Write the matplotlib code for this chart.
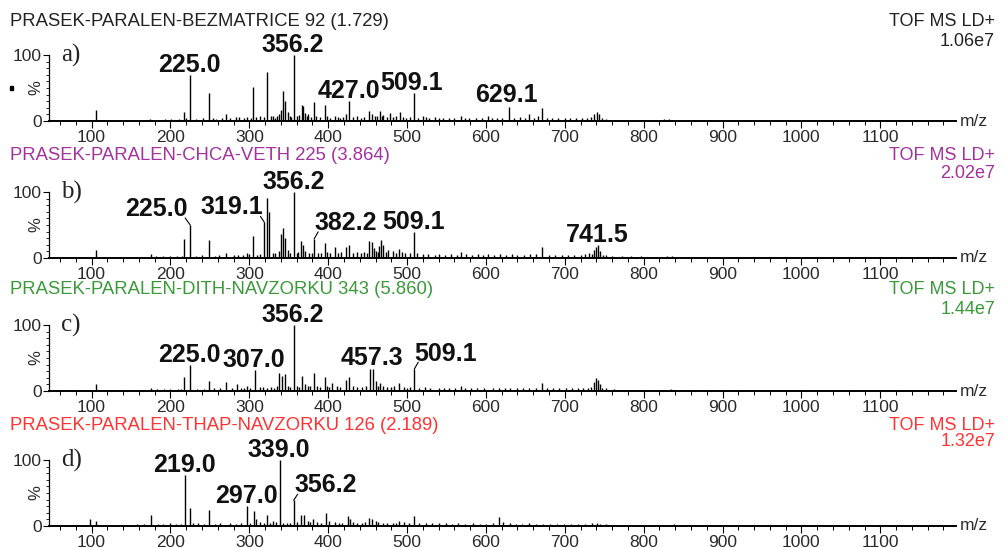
import matplotlib.pyplot as plt
from matplotlib.patches import Rectangle
from matplotlib.ticker import MultipleLocator

plt.rcParams["font.family"] = ["Liberation Sans", "DejaVu Sans"]

# ---- spectra headers ----
titles = [
    "PRASEK-PARALEN-BEZMATRICE 92 (1.729)",
    "PRASEK-PARALEN-CHCA-VETH 225 (3.864)",
    "PRASEK-PARALEN-DITH-NAVZORKU 343 (5.860)",
    "PRASEK-PARALEN-THAP-NAVZORKU 126 (2.189)",
]
modes = ["TOF MS LD+"] * 4
scales = ["1.06e7", "2.02e7", "1.44e7", "1.32e7"]
letters = ["a)", "b)", "c)", "d)"]

# ---- a) bez matrice: main peaks (m/z, rel. intensity %) ----
mz_a = [105.0, 217.4, 225.0, 249.5, 270.9, 283.7, 297.0, 305.0, 313.0, 322.5,
        327.0, 335.0, 340.0, 342.7, 345.5, 349.0, 356.2, 363.5, 366.3, 368.0,
        370.0, 381.5, 395.5, 408.0, 423.0, 427.0, 452.0, 456.0, 465.8, 470.0,
        478.7, 491.0, 509.1, 520.0, 535.0, 568.5, 602.0, 629.1, 654.0, 671.0,
        737.0, 741.0, 743.0]
int_a = [16, 13, 69, 42, 10, 6, 6, 51, 7, 75,
         8, 8, 17, 45, 31, 14, 100, 9, 25, 22,
         12, 29, 24, 8, 10, 31, 15, 10, 15, 9,
         12, 14, 42, 8, 6, 7, 7, 21, 10, 19,
         11, 14, 10]
# background sticks
mz_a_bg = [62, 71, 84, 92, 112, 121, 131, 143, 152, 163, 174, 181, 193, 201, 211,
           220, 232, 241, 254, 258, 265, 276, 287, 293, 302, 309, 318, 330, 333, 338,
           351, 353, 360, 373, 375, 378, 385, 389, 399, 402, 412, 415, 419, 431, 436,
           441, 446, 459, 462, 468, 474, 482, 486, 495, 499, 504, 514, 524, 528, 540,
           546, 553, 560, 573, 579, 588, 595, 608, 614, 620, 636, 643, 650, 661, 666,
           677, 684, 692, 700, 707, 714, 722, 728, 733, 747, 752, 762, 770, 781, 793,
           806, 818, 826, 832, 840, 851, 866, 885, 905, 931, 958, 985, 1012, 1044, 1077,
           1105, 1133, 1160, 1185]
int_a_bg = [1.5, 2, 1.5, 2, 2, 1.5, 2, 1.5, 2, 2, 2.5, 2, 3, 2.5, 3,
            4, 3, 4, 4, 3, 5, 5, 6, 4, 5, 6, 6, 7, 5, 10,
            8, 6, 7, 8, 10, 6, 7, 6, 8, 5, 6, 5, 6, 6, 7,
            5, 6, 8, 7, 7, 6, 6, 7, 6, 5, 6, 5, 6, 5, 5,
            4, 5, 4, 4, 5, 4, 5, 4, 5, 4, 5, 6, 4, 5, 7,
            4, 5, 4, 5, 4, 4, 5, 4, 6, 5, 3, 2, 2, 2, 2,
            2, 2, 2.5, 3, 2, 1.5, 1.5, 1.5, 1.5, 1.5, 1, 1.5, 1, 1.5, 1,
            1, 1.5, 1, 1]
lab_a = [225.0, 356.2, 427.0, 509.1, 629.1]

# ---- b) CHCA ----
mz_b = [105.0, 175.0, 217.4, 225.0, 249.5, 271.0, 297.0, 305.0, 319.1, 322.5,
        325.0, 340.0, 342.7, 345.5, 349.0, 356.2, 366.0, 368.5, 371.0, 382.2,
        395.5, 408.0, 423.0, 427.0, 452.0, 456.0, 458.0, 465.0, 467.5, 470.0,
        490.0, 509.1, 568.0, 602.0, 671.0, 737.0, 739.5, 741.5, 744.0]
int_b = [12, 6, 29, 50, 27, 8, 8, 33, 54, 91,
         69, 36, 45, 31, 12, 100, 26, 20, 10, 29,
         22, 16, 17, 20, 26, 25, 15, 18, 27, 20,
         14, 39, 9, 6, 17, 12, 16, 20, 11]
mz_b_bg = [58, 67, 80, 94, 113, 124, 136, 147, 158, 166, 182, 190, 199, 208, 214,
           232, 240, 256, 262, 280, 286, 292, 300, 310, 314, 330, 333, 337, 352, 360,
           362, 376, 379, 387, 391, 398, 402, 412, 416, 431, 436, 441, 446, 449, 461,
           463, 473, 476, 482, 486, 494, 498, 504, 513, 520, 527, 535, 541, 548, 556,
           563, 575, 582, 590, 596, 610, 618, 625, 633, 640, 648, 656, 664, 680, 688,
           696, 704, 712, 720, 726, 731, 734, 748, 752, 760, 772, 784, 796, 809, 821,
           830, 836, 845, 860, 878, 899, 924, 950, 978, 1005, 1036, 1068, 1099, 1128, 1157,
           1184]
int_b_bg = [1.5, 2, 1.5, 2, 2, 1.5, 2, 1.5, 2, 2, 2.5, 3, 2.5, 3, 3,
            3, 4, 3, 5, 4, 5, 5, 6, 5, 6, 8, 7, 10, 8, 7,
            9, 8, 7, 8, 7, 9, 7, 8, 9, 8, 9, 7, 9, 8, 10,
            9, 9, 12, 10, 8, 9, 8, 7, 7, 6, 6, 5, 6, 5, 6,
            5, 6, 5, 6, 5, 5, 6, 5, 6, 5, 5, 6, 6, 5, 5,
            5, 4, 5, 5, 6, 7, 6, 5, 4, 3, 3, 2.5, 2.5, 2, 2,
            2.5, 3, 2, 2, 1.5, 1.5, 1.5, 1.5, 1.5, 1, 1.5, 1, 1.5, 1, 1.5,
            1]
lab_b = [225.0, 319.1, 356.2, 382.2, 509.1, 741.5]

# ---- c) DITH ----
mz_c = [105.0, 175.0, 217.4, 225.0, 249.5, 271.0, 284.0, 297.0, 307.0, 313.0,
        338.0, 341.0, 345.5, 356.2, 367.4, 370.0, 381.5, 395.5, 405.0, 423.0,
        427.0, 453.4, 457.3, 460.0, 466.0, 490.0, 509.1, 568.0, 671.0, 737.0,
        739.5, 741.5, 744.0]
int_c = [11, 5, 21, 40, 15, 13, 11, 8, 32, 6,
         28, 23, 26, 100, 22, 10, 28, 21, 12, 16,
         21, 33, 33, 15, 12, 12, 33, 8, 12, 13,
         19, 16, 10]
mz_c_bg = [60, 70, 83, 93, 114, 126, 138, 149, 160, 168, 183, 192, 200, 209, 213,
           234, 242, 255, 263, 278, 289, 293, 301, 317, 322, 327, 331, 335, 349, 352,
           360, 363, 374, 377, 386, 390, 399, 401, 411, 415, 431, 437, 443, 448, 463,
           470, 474, 479, 484, 496, 500, 504, 515, 523, 529, 540, 547, 553, 561, 574,
           581, 589, 597, 609, 616, 624, 631, 639, 647, 655, 663, 677, 685, 693, 701,
           709, 717, 723, 729, 733, 747, 752, 762, 774, 787, 801, 815, 828, 835, 843,
           857, 876, 897, 921, 947, 975, 1003, 1034, 1065, 1096, 1126, 1155, 1183]
int_c_bg = [1.5, 2, 1.5, 2, 2, 1.5, 2, 1.5, 2, 2, 2.5, 2.5, 3, 2.5, 3,
            3, 3, 4, 4, 4, 5, 4, 5, 6, 5, 6, 5, 7, 8, 6,
            7, 6, 8, 7, 7, 6, 8, 6, 7, 6, 7, 6, 6, 7, 8,
            7, 6, 6, 7, 6, 5, 6, 5, 6, 5, 5, 5, 5, 4, 4,
            5, 4, 5, 4, 4, 5, 4, 5, 4, 4, 5, 4, 4, 4, 4,
            4, 4, 4, 5, 6, 5, 4, 3, 2, 2, 2, 2, 2, 2.5, 2,
            1.5, 1.5, 1.5, 1.5, 1.5, 1, 1.5, 1, 1.5, 1, 1, 1.5, 1]
lab_c = [225.0, 307.0, 356.2, 457.3, 509.1]

# ---- d) THAP ----
mz_d = [98.0, 105.0, 175.0, 199.0, 219.0, 225.0, 235.0, 249.5, 275.0, 297.0,
        305.5, 309.0, 322.5, 330.0, 339.0, 343.0, 356.2, 366.0, 369.0, 381.0,
        397.0, 408.0, 425.0, 428.0, 452.0, 456.0, 490.0, 509.0, 617.0, 622.0,
        741.0]
int_d = [11, 7, 16, 4, 77, 28, 4, 25, 4, 31,
         23, 10, 17, 8, 100, 5, 39, 17, 17, 10,
         20, 6, 15, 10, 12, 11, 8, 15, 14, 6,
         5]
mz_d_bg = [61, 72, 86, 114, 125, 137, 148, 157, 166, 184, 190, 207, 213, 228, 242,
           257, 263, 283, 289, 301, 314, 318, 326, 334, 348, 351, 360, 374, 377, 386,
           391, 401, 414, 418, 431, 436, 443, 447, 460, 463, 469, 474, 482, 486, 496,
           502, 515, 524, 531, 541, 549, 557, 565, 574, 583, 592, 600, 609, 630, 638,
           646, 655, 663, 672, 681, 690, 699, 708, 717, 726, 734, 745, 752, 763, 776,
           789, 802, 816, 829, 838, 848, 862, 879, 898, 920, 944, 970, 996, 1025, 1054,
           1083, 1112, 1141, 1168, 1188]
int_d_bg = [2, 1.5, 2, 2, 1.5, 2, 2, 3, 2.5, 3, 2.5, 3, 3, 4, 3,
            3, 4, 3, 4, 5, 6, 4, 5, 6, 5, 5, 6, 7, 6, 6,
            5, 7, 5, 5, 6, 5, 5, 6, 7, 6, 5, 5, 5, 5, 6,
            5, 5, 4, 4, 4, 4, 3, 4, 3, 4, 3, 3, 4, 4, 3,
            3, 4, 3, 3, 3, 3, 3, 3, 3, 3, 4, 3, 3, 2, 2,
            2, 2, 2, 2, 2.5, 2, 1.5, 1.5, 1.5, 1.5, 1.5, 1, 1.5, 1, 1.5,
            1, 1.5, 1, 1.5, 1]
lab_d = [219.0, 297.0, 339.0, 356.2]

spectra = [
    (mz_a, int_a, mz_a_bg, int_a_bg, lab_a),
    (mz_b, int_b, mz_b_bg, int_b_bg, lab_b),
    (mz_c, int_c, mz_c_bg, int_c_bg, lab_c),
    (mz_d, int_d, mz_d_bg, int_d_bg, lab_d),
]

# ---- styling ----
title_colors = ["#222222", "#a3329f", "#3a9a3a", "#ff3333"]
# label offsets in pixels: (dx, dy, leader end or None)
label_shift = [
    {509.1: (-3, 3, None), 629.1: (-2, 5, None)},
    {225.0: (-34, 9, (-5, 7)), 319.1: (-33, 8, (-4, 6)),
     382.2: (32, 9, (4, 7)), 356.2: (0, 3, None), 741.5: (0, 3, None)},
    {457.3: (-1, 4, None), 509.1: (31, 8, (4, 7))},
    {356.2: (32, 8, (4, 6))},
]
panel_bottom_px = [121, 258, 391, 526]
title_y_px = [21, 155, 290, 425]
scale_y_px = [41, 174, 309, 441]
W, H = 1006, 548
ax_left, ax_right = 49, 956
ax_h = 66

fig = plt.figure(figsize=(W / 100, H / 100), dpi=100)

for i, (mz, inten, mz_bg, int_bg, labels) in enumerate(spectra):
    ax = fig.add_axes([ax_left / W, (H - panel_bottom_px[i]) / H,
                       (ax_right - ax_left) / W, ax_h / H])
    ax.vlines(mz_bg, 0, int_bg, color="black", lw=1.0)
    ax.vlines(mz, 0, inten, color="black", lw=1.0)

    ax.set_xlim(46, 1196)
    ax.set_ylim(0, 100)
    for s in ["top", "right"]:
        ax.spines[s].set_visible(False)
    ax.spines["left"].set_bounds(0, 100)
    ax.spines["left"].set_linewidth(0.9)
    ax.spines["bottom"].set_linewidth(1.4)
    ax.xaxis.set_major_locator(MultipleLocator(100))
    ax.xaxis.set_minor_locator(MultipleLocator(20))
    ax.set_yticks([0, 100])
    ax.yaxis.set_minor_locator(MultipleLocator(10))
    ax.tick_params(axis="x", which="major", length=5, width=0.8, pad=1.5,
                   labelsize=12.5, labelcolor="#2a2a2a")
    ax.tick_params(axis="x", which="minor", length=3, width=0.7)
    ax.tick_params(axis="y", which="major", length=4, width=0.8, pad=1,
                   labelsize=12.5, labelcolor="#2a2a2a")
    ax.tick_params(axis="y", which="minor", length=2, width=0.6)
    ax.patch.set_visible(False)

    ax.text(-0.0143, 0.5, "%", transform=ax.transAxes, rotation=90,
            ha="center", va="center", fontsize=12, color="#2a2a2a")
    ax.text(1.0044, 0, "m/z", transform=ax.transAxes, ha="left", va="center",
            fontsize=12.5, color="#2a2a2a")
    ax.text(0.013, 1.0, letters[i], transform=ax.transAxes, ha="left", va="center",
            fontsize=18, family=["Liberation Serif", "DejaVu Serif"], color="#222222")

    for m in labels:
        h = inten[mz.index(m)]
        dx, dy, lead = label_shift[i].get(m, (-1, 3, None))
        if lead is not None:
            ax.annotate("", xy=(m, h), xytext=lead, textcoords="offset pixels",
                        annotation_clip=False,
                        arrowprops=dict(arrowstyle="-", lw=0.8, color="black",
                                        shrinkA=0, shrinkB=0))
        ax.annotate(f"{m:.1f}", xy=(m, h), xytext=(dx, dy), textcoords="offset pixels",
                    ha="center", va="baseline", fontsize=18, fontweight="bold",
                    color="#111111", annotation_clip=False)

    fig.text(10 / W, 1 - title_y_px[i] / H, titles[i], ha="left", va="center",
             fontsize=13.3, color=title_colors[i])
    fig.text(995 / W, 1 - title_y_px[i] / H, modes[i], ha="right", va="center",
             fontsize=13, color=title_colors[i])
    fig.text(995 / W, 1 - scale_y_px[i] / H, scales[i], ha="right", va="center",
             fontsize=13, color=title_colors[i])

# small marker left of the first panel
fig.add_artist(Rectangle((9.5 / W, 1 - 89.5 / H), 4 / W, 4 / H,
                         transform=fig.transFigure, color="black"))

fig.savefig("out.png", dpi=100)
